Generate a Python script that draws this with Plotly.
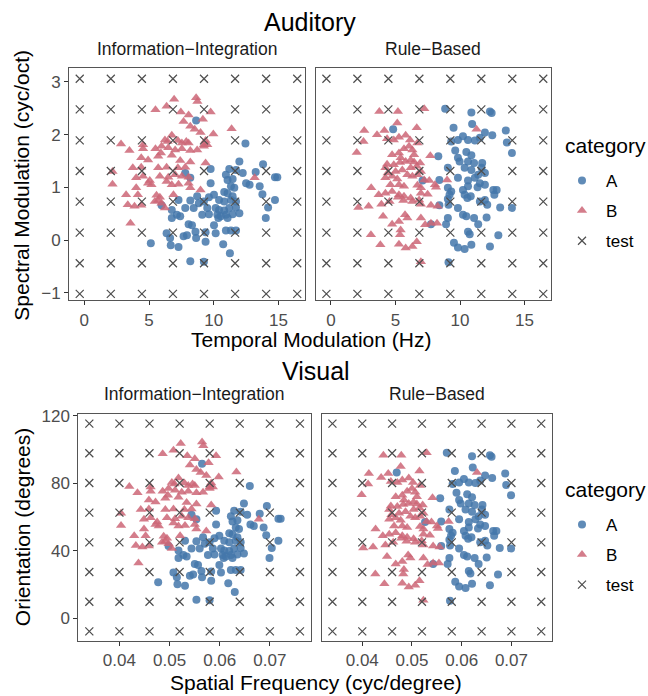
import numpy as np
import plotly.graph_objects as go

# ---------------- data: Auditory (Temporal Modulation Hz, Spectral Modulation cyc/oct) ----------------
# Information-Integration, category A
aud_ii_A_x = [8.64, 12.45, 11.98, 13.81, 9.76, 11.20, 11.72, 12.24, 13.24, 14.73, 14.91, 7.80, 8.19, 10.94, 11.07,
              11.46, 9.76, 11.33, 11.59, 12.50, 12.77, 13.55, 10.02, 10.81, 11.07, 11.46, 8.72, 9.63, 13.76, 14.73,
              7.28, 8.19, 8.85, 9.24, 10.41, 10.81, 11.33, 11.72, 8.45, 9.50, 10.15, 10.41, 10.81, 11.20, 11.72,
              5.97, 6.76, 7.80, 9.11, 9.63, 10.28, 10.55, 10.94, 11.46, 11.98, 14.20, 14.02, 6.76, 7.41, 7.15,
              10.36, 11.07, 8.06, 8.32, 10.02, 10.94, 11.33, 11.72, 6.36, 8.59, 9.37, 10.15, 7.67, 7.93, 8.64,
              6.63, 5.14, 6.68, 7.28, 9.37, 10.73, 11.25, 8.19, 9.24]
aud_ii_A_y = [2.27, 1.83, 1.49, 1.44, 1.35, 1.35, 1.33, 1.27, 1.29, 1.19, 1.19, 1.27, 1.18, 1.24, 1.14,
              1.16, 1.08, 1.02, 0.99, 1.08, 1.05, 1.02, 0.86, 0.91, 0.89, 0.83, 0.83, 0.81, 0.87, 0.76,
              0.76, 0.75, 0.70, 0.73, 0.76, 0.73, 0.76, 0.73, 0.61, 0.61, 0.61, 0.57, 0.56, 0.61, 0.62,
              0.66, 0.57, 0.61, 0.48, 0.49, 0.48, 0.45, 0.48, 0.49, 0.51, 0.62, 0.42, 0.42, 0.45, 0.48,
              0.42, 0.42, 0.30, 0.28, 0.28, 0.18, 0.18, 0.18, 0.13, 0.16, 0.15, 0.13, 0.07, 0.09, 0.04,
              0.04, -0.06, -0.10, -0.13, -0.03, -0.08, -0.25, -0.40, -0.41]
# Information-Integration, category B
aud_ii_B_x = [6.94, 8.64, 8.74, 6.36, 5.50, 7.46, 8.06, 9.76, 9.16, 7.67, 8.19, 8.53, 8.98, 9.97, 11.38,
              6.76, 6.23, 6.44, 7.23, 7.88, 7.54, 8.06, 9.37, 9.24, 2.84, 3.49, 4.54, 4.54, 5.50, 5.97,
              5.92, 6.49, 7.02, 7.54, 8.19, 8.72, 9.24, 9.50, 4.40, 4.93, 5.71, 6.76, 7.41, 8.19, 9.37,
              3.75, 4.40, 2.18, 5.71, 6.36, 7.23, 7.80, 4.01, 4.54, 5.06, 5.84, 6.49, 7.02, 7.54, 8.06,
              2.18, 4.01, 4.93, 5.19, 6.36, 6.76, 7.28, 8.06, 8.19, 8.98, 13.16, 3.23, 4.14, 5.58, 5.84,
              6.89, 3.36, 3.88, 4.40, 5.45, 5.97, 6.23, 3.57, 5.71]
aud_ii_B_y = [2.67, 2.70, 2.63, 2.54, 2.47, 2.43, 2.37, 2.43, 2.29, 2.25, 2.16, 2.10, 2.04, 2.01, 2.11,
              1.99, 1.90, 1.87, 1.89, 1.87, 1.84, 1.84, 1.89, 1.81, 1.82, 1.70, 1.81, 1.73, 1.73, 1.78,
              1.65, 1.75, 1.71, 1.73, 1.70, 1.71, 1.78, 1.81, 1.56, 1.52, 1.59, 1.61, 1.51, 1.48, 1.46,
              1.37, 1.38, 1.30, 1.37, 1.38, 1.37, 1.38, 1.18, 1.21, 1.13, 1.21, 1.19, 1.24, 1.21, 1.19,
              1.06, 0.99, 1.08, 1.05, 1.11, 1.05, 1.06, 1.08, 0.99, 0.95, 1.18, 0.86, 0.86, 0.85, 0.81,
              0.86, 0.67, 0.64, 0.66, 0.73, 0.70, 0.61, 0.32, 0.75]
# Rule-Based, category A
aud_rb_A_x = [8.85, 10.88, 12.32, 12.45, 4.82, 9.50, 10.94, 11.93, 12.50, 13.55, 13.63, 14.02, 9.32, 9.84, 10.23,
              10.62, 11.15, 11.54, 9.63, 10.49, 10.88, 8.32, 9.84, 9.97, 10.62, 11.09, 11.72, 11.67, 9.06, 10.36,
              10.88, 11.41, 11.93, 7.10, 8.40, 9.84, 10.62, 11.15, 11.54, 11.93, 9.06, 9.32, 10.23, 10.62, 11.36,
              12.58, 12.84, 9.19, 10.36, 10.83, 11.93, 12.66, 8.40, 9.06, 9.11, 10.57, 9.84, 11.54, 12.11, 13.11,
              14.02, 10.23, 10.49, 11.09, 12.06, 7.75, 8.92, 9.06, 11.41, 10.62, 10.75, 12.97, 9.53, 9.84, 10.36,
              10.88, 12.32, 9.11]
aud_rb_A_y = [2.49, 2.42, 2.44, 2.41, 2.10, 2.13, 2.20, 2.04, 1.99, 2.08, 1.85, 1.65, 1.87, 1.90, 1.97,
              1.90, 1.89, 1.94, 1.70, 1.67, 1.61, 1.59, 1.56, 1.49, 1.49, 1.46, 1.46, 1.37, 1.37, 1.37,
              1.33, 1.24, 1.27, 1.13, 1.14, 1.18, 1.13, 1.18, 1.08, 1.05, 0.99, 0.92, 0.95, 1.02, 1.00,
              0.95, 0.95, 0.86, 0.86, 0.83, 0.76, 0.86, 0.66, 0.78, 0.67, 0.80, 0.61, 0.73, 0.67, 0.62,
              0.61, 0.48, 0.45, 0.42, 0.43, 0.30, 0.30, 0.42, 0.30, 0.16, 0.11, 0.09, -0.05, -0.14, -0.17,
              -0.09, -0.12, -0.42]
# Rule-Based, category B
aud_rb_B_x = [3.75, 5.19, 7.23, 5.14, 2.58, 4.14, 3.57, 2.52, 4.35, 4.87, 5.27, 5.79, 6.13, 6.65, 6.70,
              2.00, 5.27, 5.66, 6.05, 6.31, 4.74, 5.40, 6.18, 6.44, 7.70, 4.35, 4.87, 5.35, 5.79, 6.44,
              6.91, 4.22, 4.40, 5.01, 5.53, 6.18, 6.65, 6.97, 4.22, 4.74, 5.14, 5.92, 6.31, 6.70, 7.23,
              7.62, 8.06, 8.14, 9.00, 3.12, 4.61, 5.27, 5.66, 6.70, 6.97, 3.70, 4.22, 4.74, 5.27, 5.66,
              6.18, 6.97, 7.49, 2.13, 2.92, 3.91, 4.54, 5.19, 5.61, 6.83, 6.31, 6.97, 7.75, 8.27, 4.04,
              4.74, 5.27, 5.74, 5.92, 6.97, 7.30, 7.75, 8.22, 3.10, 5.40, 5.35, 3.83, 5.27, 5.79, 6.31,
              6.65, 6.97, 11.28]
aud_rb_B_y = [2.44, 2.44, 2.49, 2.22, 2.08, 2.08, 2.00, 1.87, 1.92, 1.90, 1.95, 1.99, 1.90, 2.13, 1.84,
              1.66, 1.65, 1.73, 1.78, 1.71, 1.62, 1.56, 1.52, 1.62, 1.60, 1.44, 1.43, 1.47, 1.49, 1.48,
              1.46, 1.37, 1.27, 1.30, 1.33, 1.37, 1.40, 1.30, 1.18, 1.21, 1.16, 1.24, 1.21, 1.24, 1.14,
              1.13, 1.05, 1.00, 1.14, 0.99, 1.05, 1.05, 1.02, 1.04, 0.99, 0.86, 0.89, 0.92, 0.86, 0.83,
              0.80, 0.89, 0.87, 0.62, 0.64, 0.68, 0.73, 0.81, 0.75, 0.76, 0.73, 0.68, 0.66, 0.64, 0.45,
              0.30, 0.35, 0.48, 0.42, 0.42, 0.29, 0.32, 0.32, 0.10, 0.19, 0.10, -0.09, -0.08, -0.15, -0.12,
              -0.03, -0.41, 2.10]

# test grid levels
test_aud_x = [-0.35, 2.05, 4.45, 6.85, 9.25, 11.65, 14.05, 16.45]
test_aud_y = [-1.02, -0.44, 0.14, 0.73, 1.31, 1.89, 2.48, 3.06]
test_vis_x = [0.034, 0.040, 0.046, 0.052, 0.058, 0.064, 0.070, 0.076]
test_vis_y = [-7.8, 9.8, 27.4, 45.0, 62.6, 80.2, 97.8, 115.4]

facets = ["Information\u2212Integration", "Rule\u2212Based"]
categories = ["A", "B", "test"]


# The visual stimuli are the same design points expressed in visual units
# (spatial frequency, orientation); map via the test-grid correspondence.
def to_vis_x(v):
    return list(np.interp(v, test_aud_x, test_vis_x))


def to_vis_y(v):
    return list(np.interp(v, test_aud_y, test_vis_y))


COL_A = "#4477AA"
COL_B = "#CC6677"
COL_T = "#4d4d4d"
FONT = "Liberation Sans, Arial, sans-serif"

fig = go.Figure()


def add_panel(xa, ya, Ax, Ay, Bx, By, tx, ty, legend, show):
    gx, gy = np.meshgrid(tx, ty)
    common = dict(xaxis=xa, yaxis=ya, mode="markers", legend=legend, showlegend=show, hoverinfo="skip")
    fig.add_trace(go.Scatter(x=Ax, y=Ay, name=categories[0], legendgroup=legend + "A",
                             marker=dict(symbol="circle", size=8, color=COL_A, opacity=0.85, line=dict(width=0)),
                             **common))
    fig.add_trace(go.Scatter(x=Bx, y=By, name=categories[1], legendgroup=legend + "B",
                             marker=dict(symbol="triangle-up", size=9, color=COL_B, opacity=0.85,
                                         line=dict(width=0)),
                             **common))
    fig.add_trace(go.Scatter(x=gx.ravel(), y=gy.ravel(), name=categories[2], legendgroup=legend + "T",
                             marker=dict(symbol="x-thin", size=8, color=COL_T,
                                         line=dict(width=1.2, color=COL_T)),
                             **common))


add_panel("x", "y", aud_ii_A_x, aud_ii_A_y, aud_ii_B_x, aud_ii_B_y, test_aud_x, test_aud_y, "legend", True)
add_panel("x2", "y2", aud_rb_A_x, aud_rb_A_y, aud_rb_B_x, aud_rb_B_y, test_aud_x, test_aud_y, "legend", False)
add_panel("x3", "y3", to_vis_x(aud_ii_A_x), to_vis_y(aud_ii_A_y), to_vis_x(aud_ii_B_x), to_vis_y(aud_ii_B_y),
          test_vis_x, test_vis_y, "legend2", True)
add_panel("x4", "y4", to_vis_x(aud_rb_A_x), to_vis_y(aud_rb_A_y), to_vis_x(aud_rb_B_x), to_vis_y(aud_rb_B_y),
          test_vis_x, test_vis_y, "legend2", False)

W, H = 648, 696


def px(x):
    return x / W


def py(y):
    return 1 - y / H


axis_common = dict(showline=True, mirror=True, linecolor="#555555", linewidth=1, showgrid=False,
                   zeroline=False, ticks="outside", ticklen=4, tickcolor="#333333", tickwidth=1,
                   tickfont=dict(size=17, color="#4D4D4D", family=FONT))

top_dom = [py(297), py(62)]
bot_dom = [py(642), py(412.5)]
aud_xr = [-1.18, 17.05]
aud_yr = [-1.14, 3.26]
vis_xr = [0.0318, 0.0781]
vis_yr = [-13.3, 121.0]

legend_common = dict(xanchor="left", yanchor="top", bgcolor="rgba(0,0,0,0)", itemwidth=38,
                     font=dict(size=17, color="black", family=FONT), traceorder="grouped", tracegroupgap=5)

fig.update_layout(
    width=W, height=H, margin=dict(l=0, r=0, t=0, b=0),
    plot_bgcolor="white", paper_bgcolor="white",
    font=dict(family=FONT, color="black"),
    xaxis=dict(domain=[px(69), px(305)], range=aud_xr, anchor="y", tickvals=[0, 5, 10, 15], **axis_common),
    yaxis=dict(domain=top_dom, range=aud_yr, anchor="x", tickvals=[-1, 0, 1, 2, 3],
               ticktext=["\u22121", "0", "1", "2", "3"], **axis_common),
    xaxis2=dict(domain=[px(315.7), px(551)], range=aud_xr, anchor="y2", tickvals=[0, 5, 10, 15], **axis_common),
    yaxis2=dict(domain=top_dom, range=aud_yr, anchor="x2", **{**axis_common, "ticks": "", "showticklabels": False}),
    xaxis3=dict(domain=[px(78.3), px(310.5)], range=vis_xr, anchor="y3", tickvals=[0.04, 0.05, 0.06, 0.07],
                tickformat=".2f", **axis_common),
    yaxis3=dict(domain=bot_dom, range=vis_yr, anchor="x3", tickvals=[0, 40, 80, 120], **axis_common),
    xaxis4=dict(domain=[px(321.5), px(551.7)], range=vis_xr, anchor="y4", tickvals=[0.04, 0.05, 0.06, 0.07],
                tickformat=".2f", **axis_common),
    yaxis4=dict(domain=bot_dom, range=vis_yr, anchor="x4", **{**axis_common, "ticks": "", "showticklabels": False}),
    legend=dict(x=px(558), y=py(158), **legend_common),
    legend2=dict(x=px(558), y=py(506.5), **legend_common),
)

ann = []


def add_text(text, x, y, size, color="black", angle=0, xanchor="center"):
    ann.append(dict(text=text, x=x, y=y, xref="paper", yref="paper", xanchor=xanchor, yanchor="middle",
                    showarrow=False, textangle=angle, font=dict(size=size, color=color, family=FONT)))


add_text("Auditory", px(310), py(15.5), 25)
add_text("Visual", px(316), py(369), 25)
add_text(facets[0], px(187), py(42.5), 17.5, "#1A1A1A")
add_text(facets[1], px(433.4), py(42.5), 17.5, "#1A1A1A")
add_text(facets[0], px(194.4), py(392.5), 17.5, "#1A1A1A")
add_text(facets[1], px(436.6), py(392.5), 17.5, "#1A1A1A")
add_text("Temporal Modulation (Hz)", px(311), py(337), 21)
add_text("Spatial Frequency (cyc/degree)", px(316), py(684), 21)
add_text("Spectral Modulation (cyc/oct)", px(22), py(181), 21, angle=-90)
add_text("Orientation (degrees)", px(22), py(527), 21, angle=-90)
add_text("category", px(563), py(140), 21, xanchor="left")
add_text("category", px(563), py(488.5), 21, xanchor="left")
fig.update_layout(annotations=ann)

fig.write_html("out.html")
